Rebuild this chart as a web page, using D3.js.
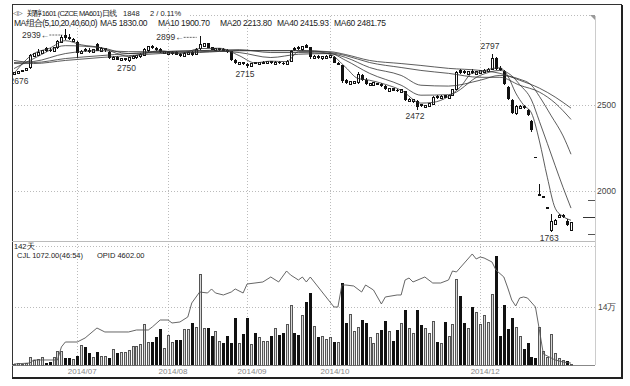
<!DOCTYPE html>
<html>
<head>
<meta charset="UTF-8" />
<title>郑醇1601 日线</title>
<script src="https://d3js.org/d3.v7.min.js"></script>
<style>
body { margin: 0px; background: #fff; }
svg text { font-family: "Liberation Sans", Arial, sans-serif; }
</style>
</head>
<body>
<svg id="chart" width="630" height="386"></svg>
<script>
// daily bars: [open, high, low, close]
const ohlc = [
  [2680,2692,2676,2688],[2686,2698,2683,2695],[2692,2705,2690,2702],[2700,2718,2697,2714],[2716,2795,2712,2788],
  [2784,2805,2778,2798],[2790,2825,2786,2806],[2800,2822,2795,2815],[2830,2840,2810,2815],[2822,2830,2808,2812],
  [2812,2840,2808,2835],[2832,2878,2828,2870],[2866,2905,2860,2895],[2905,2939,2880,2888],[2895,2915,2878,2884],
  [2872,2892,2866,2880],[2868,2872,2772,2800],[2800,2818,2795,2812],[2825,2832,2808,2812],[2822,2830,2805,2810],
  [2808,2828,2805,2822],[2852,2858,2812,2815],[2812,2835,2808,2828],[2820,2832,2810,2826],[2808,2812,2768,2772],
  [2765,2785,2760,2778],[2780,2784,2760,2764],[2760,2772,2755,2768],[2762,2775,2758,2770],[2758,2778,2750,2774],
  [2770,2790,2765,2784],[2776,2790,2770,2786],[2780,2800,2776,2794],[2790,2830,2786,2822],[2815,2845,2810,2838],
  [2842,2850,2825,2830],[2832,2838,2815,2820],[2825,2830,2800,2806],[2800,2815,2795,2810],[2796,2815,2790,2808],
  [2798,2812,2792,2806],[2808,2812,2788,2792],[2796,2800,2780,2786],[2782,2808,2778,2800],[2796,2810,2790,2804],
  [2808,2812,2786,2790],[2792,2830,2788,2824],[2826,2899,2822,2852],[2840,2862,2835,2856],[2858,2862,2830,2834],
  [2836,2840,2818,2822],[2816,2830,2812,2826],[2820,2830,2816,2826],[2828,2832,2812,2816],[2820,2824,2805,2808],
  [2812,2816,2755,2760],[2760,2765,2740,2744],[2735,2752,2730,2748],[2748,2752,2732,2736],[2740,2744,2715,2728],
  [2725,2745,2722,2742],[2748,2752,2736,2740],[2738,2752,2734,2748],[2742,2755,2738,2750],[2744,2756,2740,2752],
  [2755,2758,2738,2742],[2738,2755,2735,2750],[2752,2756,2738,2742],[2745,2748,2732,2738],[2738,2760,2735,2755],
  [2755,2822,2752,2812],[2830,2836,2815,2820],[2835,2842,2822,2826],[2820,2845,2816,2840],[2848,2855,2830,2834],
  [2836,2840,2770,2778],[2770,2790,2766,2784],[2786,2790,2768,2772],[2768,2786,2764,2780],[2772,2788,2770,2782],
  [2776,2790,2772,2786],[2780,2784,2742,2746],[2735,2750,2730,2744],[2730,2735,2630,2640],[2645,2650,2622,2628],
  [2620,2640,2615,2634],[2625,2640,2620,2636],[2628,2690,2624,2680],[2676,2682,2640,2648],[2648,2655,2615,2622],
  [2612,2630,2608,2625],[2615,2632,2612,2628],[2618,2630,2614,2626],[2624,2628,2606,2610],[2612,2615,2588,2592],
  [2580,2600,2576,2595],[2596,2600,2580,2584],[2590,2594,2576,2580],[2572,2592,2568,2588],[2580,2584,2522,2528],
  [2520,2540,2515,2534],[2518,2535,2514,2530],[2525,2530,2472,2490],[2505,2508,2486,2492],[2488,2502,2484,2498],
  [2494,2512,2490,2508],[2505,2552,2500,2546],[2552,2556,2536,2540],[2536,2556,2532,2550],[2556,2560,2538,2542],
  [2540,2560,2536,2556],[2556,2594,2552,2588],[2592,2696,2588,2688],[2702,2712,2680,2686],[2696,2705,2678,2684],
  [2680,2698,2676,2694],[2700,2712,2680,2686],[2680,2700,2676,2696],[2686,2705,2682,2698],[2690,2712,2686,2702],
  [2696,2714,2692,2706],[2708,2797,2704,2772],[2772,2780,2706,2712],[2718,2725,2700,2704],[2700,2704,2615,2622],
  [2605,2610,2528,2535],[2530,2536,2448,2455],[2450,2500,2440,2492],[2478,2500,2474,2494],[2494,2498,2478,2482],
  [2470,2474,2438,2444],[2405,2410,2345,2352],[2200,2200,2198,2198],[1975,2040,1970,1978],[1968,1972,1968,1970],
  [1900,1902,1900,1902],[1772,1868,1763,1822],[1808,1835,1805,1826],[1846,1865,1842,1855],[1852,1868,1845,1856],
  [1828,1835,1798,1800],[1768,1820,1765,1815]
];

// volume per bar (lots)
const volume = [
  2400,4800,2400,4800,16900,9700,12100,16900,4800,7200,
  19300,31400,31400,16900,16900,12100,21700,45900,43500,29000,
  19300,31400,21700,21700,16900,38600,29000,29000,29000,33800,
  43500,43500,48300,96600,55500,55500,67600,86900,41000,72400,
  55500,60400,60400,84500,84500,101400,91700,217300,86900,89300,
  70000,79700,57900,53100,70000,53100,113500,53100,74800,113500,
  48300,77200,65200,57900,57900,70000,86900,72400,77200,96600,
  144800,77200,72400,118300,152100,173800,94100,67600,70000,60400,
  65200,55500,55500,197900,101400,120700,79700,91700,108600,101400,
  65200,53100,77200,84500,106200,79700,57900,84500,99000,132800,
  89300,77200,132800,96600,89300,77200,103800,55500,53100,103800,
  70000,96600,205200,166600,101400,89300,140000,127900,96600,118300,
  101400,169000,263100,70000,144800,86900,113500,91700,70000,38600,
  53100,19300,16900,91700,31400,16900,74800,26600,14500,9700,
  9700,1072
];

// open interest, read at [bar index, value]
const openInterest = [
  [0,2400],[4,4800],[5,12100],[11,12100],[12,43500],[13,55500],[16,55500],[18,65200],[21,89300],[23,79700],
  [29,79700],[31,84500],[34,84500],[35,91700],[37,108600],[39,108600],[40,101400],[42,103800],[44,115900],[45,149700],
  [47,176200],[49,173800],[50,183500],[51,173800],[53,169000],[55,176200],[56,183500],[58,173800],[59,195500],[61,197900],
  [63,200400],[65,212400],[67,200400],[69,226900],[70,217300],[72,205200],[73,212400],[74,200400],[75,212400],[77,188300],
  [78,176200],[80,152100],[81,140000],[82,140000],[83,193100],[84,193100],[86,190700],[88,176200],[89,193100],[91,181000],
  [93,147300],[94,164200],[97,169000],[98,169000],[99,205200],[100,210000],[101,200400],[104,212400],[106,197900],[108,197900],
  [110,205200],[111,226900],[112,224500],[114,246200],[116,268000],[117,255900],[118,260700],[119,258300],[121,248600],[122,229300],
  [124,212400],[125,185900],[126,156900],[127,142400],[128,161700],[129,164200],[130,161700],[132,140000],[133,84500],[134,26600],
  [136,16900],[137,12100],[139,7200],[141,4602]
];

// moving averages, read at [bar index, value]
const ma5 = [
  [0,2684],[5,2799],[9,2830],[13,2874],[17,2850],[22,2833],[26,2800],[29,2782],[33,2800],[37,2816],
  [42,2800],[47,2828],[52,2830],[57,2787],[61,2745],[65,2755],[69,2752],[72,2810],[76,2810],[80,2795],
  [84,2718],[87,2655],[90,2644],[94,2620],[98,2586],[103,2511],[106,2515],[110,2550],[113,2605],[116,2685],
  [118,2692],[121,2712],[123,2716],[125,2669],[127,2570],[129,2500],[131,2453],[133,2291],[135,2080],[137,1900],
  [139,1852],[141,1830]
];
const ma10 = [
  [0,2712],[5,2770],[13,2845],[22,2833],[29,2799],[37,2810],[47,2816],[57,2805],[65,2776],[72,2795],
  [80,2799],[84,2759],[90,2684],[98,2615],[103,2557],[110,2560],[118,2672],[123,2701],[126,2670],[128,2619],
  [131,2529],[133,2405],[135,2277],[137,2147],[139,2020],[141,1900.7]
];
const ma20 = [
  [0,2747],[5,2753],[13,2799],[22,2816],[29,2810],[37,2810],[47,2816],[57,2822],[65,2805],[72,2805],
  [80,2799],[84,2776],[90,2718],[98,2672],[103,2615],[110,2610],[118,2644],[123,2672],[128,2650],[131,2615],
  [133,2550],[136,2437],[139,2320],[141,2213.8]
];
const ma40 = [
  [0,2759],[5,2747],[13,2770],[22,2787],[29,2799],[37,2805],[47,2810],[57,2816],[65,2816],[72,2816],
  [80,2805],[84,2787],[90,2747],[98,2718],[103,2701],[110,2684],[118,2661],[123,2661],[128,2615],[133,2575],
  [137,2511],[141,2415.93]
];
const ma60 = [
  [0,2741],[5,2741],[13,2759],[22,2776],[29,2787],[37,2799],[47,2805],[57,2816],[65,2816],[72,2816],
  [80,2810],[84,2793],[90,2759],[98,2741],[103,2730],[110,2713],[118,2701],[123,2684],[128,2644],[133,2598],
  [137,2546],[141,2481.75]
];

const monthIdx = [16, 39, 59, 80, 118];
const monthLabels = ["2014/07", "2014/08", "2014/09", "2014/10", "2014/12"];
const priceTicks = [2000, 2500];
const minorTicks = [1950, 1750];
const lastPrice = 1848;
const volTicks = [140000];
const volTickLabels = ["14万"];

// marked extremes: [bar index, price, kind]
const extremes = [
  [0, 2676, "low"], [13, 2939, "arrow"], [29, 2750, "low"], [47, 2899, "arrow"],
  [59, 2715, "low"], [102, 2472, "low"], [121, 2797, "high"], [136, 1763, "low"]
];

const titleParts = ["郑醇1601 (CZCE MA601)日线", "1848", "2 / 0.11%"];
const maLegend = ["MA组合(5,10,20,40,60,0)", "MA5 1830.00", "MA10 1900.70", "MA20 2213.80", "MA40 2415.93", "MA60 2481.75"];
const subInfo = ["142天", "CJL 1072.00(46:54)", "OPID 4602.00"];

// ---- layout
const left = 12, right = 595;
const svg = d3.select("#chart");

const x = d3.scaleLinear().domain([0, ohlc.length - 1]).range([14, 571]);
const y = d3.scaleLinear().domain([2000, 2500]).range([191, 105]);
const yv = d3.scaleLinear().domain([0, 140000]).range([365, 307]);

svg.append("rect").attr("width", 630).attr("height", 386).attr("fill", "#fff");

// clip regions
const defs = svg.append("defs");
defs.append("clipPath").attr("id", "clipPrice")
  .append("rect").attr("x", left + 0.5).attr("y", 15).attr("width", right - left).attr("height", 226);
defs.append("clipPath").attr("id", "clipVol")
  .append("rect").attr("x", left + 0.5).attr("y", 243).attr("width", right - left).attr("height", 122.5);

const grid = svg.append("g").attr("stroke", "#aaa").attr("stroke-width", 0.8).attr("stroke-dasharray", "1,2");

// top dotted line
grid.append("line").attr("x1", 190).attr("x2", right - 3).attr("y1", 15.5).attr("y2", 15.5);

// month gridlines
grid.selectAll(".vg").data(monthIdx).join("line")
  .attr("x1", d => Math.round(x(d)) + 0.5).attr("x2", d => Math.round(x(d)) + 0.5)
  .attr("y1", 16).attr("y2", 365);

// price gridlines
grid.selectAll(".hg").data(priceTicks).join("line")
  .attr("x1", left).attr("x2", right)
  .attr("y1", d => Math.round(y(d)) + 0.5).attr("y2", d => Math.round(y(d)) + 0.5);

// volume gridlines
grid.selectAll(".vv").data(volTicks).join("line")
  .attr("x1", left).attr("x2", right)
  .attr("y1", d => Math.round(yv(d)) + 0.5).attr("y2", d => Math.round(yv(d)) + 0.5);
grid.append("line").attr("x1", left).attr("x2", right).attr("y1", 246.5).attr("y2", 246.5);

// frame
const frame = svg.append("g").attr("fill", "none").attr("shape-rendering", "crispEdges");
frame.append("rect").attr("x", left + 0.5).attr("y", 4.5).attr("width", 621 - left).attr("height", 373)
  .attr("stroke", "#333").attr("stroke-width", 1);
frame.append("line").attr("x1", 622).attr("x2", 622).attr("y1", 5).attr("y2", 379).attr("stroke", "#222").attr("stroke-width", 2);
frame.append("line").attr("x1", left).attr("x2", 623).attr("y1", 378).attr("y2", 378).attr("stroke", "#222").attr("stroke-width", 2);
frame.append("line").attr("x1", right + 0.5).attr("x2", right + 0.5).attr("y1", 16).attr("y2", 365).attr("stroke", "#ccc");
frame.append("line").attr("x1", left).attr("x2", right).attr("y1", 241.5).attr("y2", 241.5).attr("stroke", "#bbb");
frame.append("line").attr("x1", left).attr("x2", right).attr("y1", 365.5).attr("y2", 365.5).attr("stroke", "#888");

// corner marker
svg.append("path").attr("d", `M${right - 5},15 L${right},15 L${right},20 Z`).attr("fill", "#999");

// ---- candles
const price = svg.append("g").attr("clip-path", "url(#clipPrice)");
const bars = price.selectAll(".k").data(ohlc).join("g").attr("shape-rendering", "crispEdges");
bars.append("line")
  .attr("x1", (d, i) => Math.round(x(i)) + 0.5).attr("x2", (d, i) => Math.round(x(i)) + 0.5)
  .attr("y1", d => y(d[1])).attr("y2", d => y(d[2]))
  .attr("stroke", "#111").attr("stroke-width", 1);
bars.append("rect")
  .attr("x", (d, i) => d[3] >= d[0] ? Math.round(x(i)) - 0.5 : Math.round(x(i)) - 1)
  .attr("width", d => d[3] >= d[0] ? 2 : 3)
  .attr("y", d => y(Math.max(d[0], d[3])))
  .attr("height", d => Math.max(1, Math.abs(y(d[0]) - y(d[3]))))
  .attr("fill", d => d[3] >= d[0] ? "#fff" : "#111")
  .attr("stroke", d => d[3] >= d[0] ? "#111" : "none")
  .attr("stroke-width", 1);

// ---- moving averages
const maLine = d3.line().x(d => x(d[0])).y(d => y(d[1])).curve(d3.curveMonotoneX);
price.selectAll(".ma").data([ma60, ma40, ma20, ma10, ma5]).join("path")
  .attr("d", maLine).attr("fill", "none").attr("stroke", "#333").attr("stroke-width", 0.8);

// ---- extreme labels
const lab = price.append("g").attr("font-size", 8.5).attr("fill", "#333");
extremes.forEach(([i, v, kind]) => {
  if (kind === "low") {
    lab.append("text").attr("x", Math.max(x(i) - 2, 19)).attr("y", y(v) + 9)
      .attr("text-anchor", "middle").text(v);
  } else if (kind === "high") {
    lab.append("text").attr("x", x(i) - 2).attr("y", y(v) - 5)
      .attr("text-anchor", "middle").text(v);
  } else {
    const by = Math.max(y(v) + 4, 38);
    lab.append("text").attr("x", x(i) - 16).attr("y", by)
      .attr("text-anchor", "end").text(v + "←");
    lab.append("line").attr("x1", x(i) - 16).attr("x2", x(i) - 3)
      .attr("y1", by - 3).attr("y2", by - 3)
      .attr("stroke", "#444").attr("stroke-width", 0.8).attr("stroke-dasharray", "2,1");
  }
});

// ---- right axis
const axisText = svg.append("g").attr("font-size", 8.5).attr("fill", "#444");
axisText.selectAll(".pt").data(priceTicks).join("text")
  .attr("x", right + 2).attr("y", d => y(d) + 3).text(d => d);
svg.selectAll(".mt").data(minorTicks).join("line")
  .attr("x1", right - 7).attr("x2", right).attr("y1", d => Math.round(y(d)) + 0.5).attr("y2", d => Math.round(y(d)) + 0.5)
  .attr("stroke", "#555");
svg.append("line").attr("x1", right - 12).attr("x2", right)
  .attr("y1", Math.round(y(lastPrice)) + 0.5).attr("y2", Math.round(y(lastPrice)) + 0.5)
  .attr("stroke", "#333");
axisText.selectAll(".vt").data(volTicks).join("text")
  .attr("x", right + 3).attr("y", d => yv(d) + 3).text((d, i) => volTickLabels[i]);

// ---- volume
const vol = svg.append("g").attr("clip-path", "url(#clipVol)");
vol.selectAll(".vb").data(volume).join("rect")
  .attr("shape-rendering", "crispEdges")
  .attr("x", (d, i) => ohlc[i][3] >= ohlc[i][0] ? Math.round(x(i)) - 0.5 : Math.round(x(i)) - 1)
  .attr("width", (d, i) => ohlc[i][3] >= ohlc[i][0] ? 2 : 3)
  .attr("y", d => yv(d))
  .attr("height", d => Math.max(0.5, yv(0) - yv(d)))
  .attr("fill", (d, i) => ohlc[i][3] >= ohlc[i][0] ? "#d8d8d8" : "#111")
  .attr("stroke", (d, i) => ohlc[i][3] >= ohlc[i][0] ? "#555" : "none")
  .attr("stroke-width", 1);

vol.append("path").datum(openInterest)
  .attr("d", d3.line().x(d => x(d[0])).y(d => yv(d[1])))
  .attr("fill", "none").attr("stroke", "#555").attr("stroke-width", 0.9);

// ---- month labels
svg.append("g").attr("font-size", 8).attr("fill", "#888")
  .selectAll("text").data(monthIdx).join("text")
  .attr("x", d => x(d) + 5).attr("y", 374).attr("text-anchor", "middle")
  .text((d, i) => monthLabels[i]);

// ---- header texts
const head = svg.append("g").attr("fill", "#222");
head.append("text").attr("x", 13).attr("y", 15).attr("font-size", 6).attr("font-family", "DejaVu Sans").text("◁▷");
const titleX = [27, 123, 150], titleSpacing = [-0.6, 0, 0];
head.selectAll(".tt").data(titleParts).join("text")
  .attr("x", (d, i) => titleX[i]).attr("y", 16).attr("font-size", 7.5)
  .attr("letter-spacing", (d, i) => titleSpacing[i])
  .text(d => d);
const legendX = [14, 100, 158, 220, 277, 334], legendSpacing = [-0.6, -0.3, -0.3, -0.3, -0.3, -0.3];
head.selectAll(".lg").data(maLegend).join("text")
  .attr("x", (d, i) => legendX[i]).attr("y", 26).attr("font-size", 8.5)
  .attr("letter-spacing", (d, i) => legendSpacing[i])
  .text(d => d);
const subX = [14, 17, 97], subY = [249, 258, 258];
head.selectAll(".si").data(subInfo).join("text")
  .attr("x", (d, i) => subX[i]).attr("y", (d, i) => subY[i]).attr("font-size", 7.5)
  .text(d => d);
</script>
</body>
</html>
